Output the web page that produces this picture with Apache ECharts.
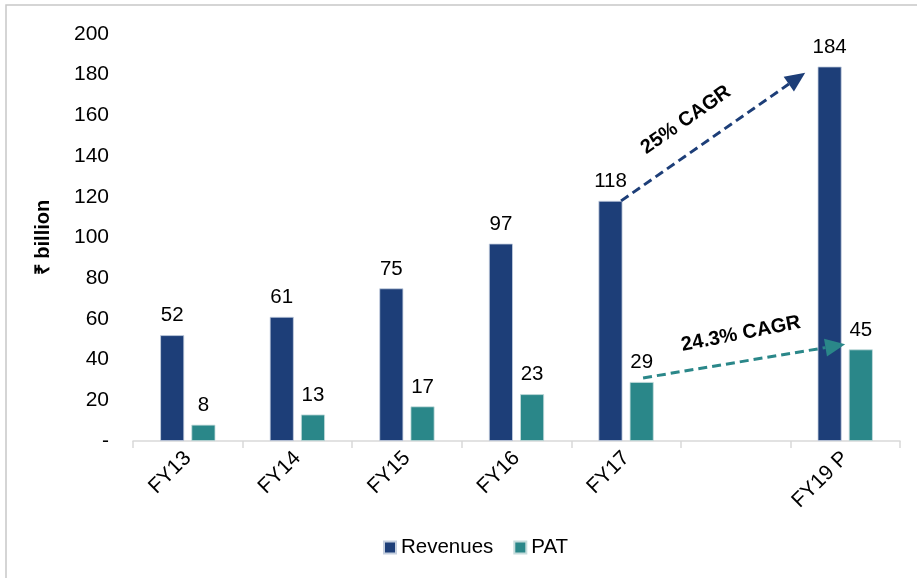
<!DOCTYPE html>
<html>
<head>
<meta charset="utf-8">
<script src="https://cdn.jsdelivr.net/npm/echarts@6/dist/echarts.min.js"></script>
<style>
  html, body { margin: 0; padding: 0; background: #fff; }
  #chart { width: 917px; height: 578px; }
</style>
</head>
<body>
<div id="chart"></div>
<script>
  // data
  var categories = ['FY13', 'FY14', 'FY15', 'FY16', 'FY17', '', 'FY19 P'];
  var revenues = [52, 61, 75, 97, 118, null, 184];
  var pat = [8, 13, 17, 23, 29, null, 45];
  var yTicks = [0, 20, 40, 60, 80, 100, 120, 140, 160, 180, 200];

  var colRev = '#1d3e78';
  var colPat = '#2a8789';
  var font = '"Liberation Sans", Arial, sans-serif';

  var myChart = echarts.init(document.getElementById('chart'));

  myChart.setOption({
    animation: false,
    textStyle: {fontFamily: font},
    grid: {left: 133, right: 17, top: 34, bottom: 137},
    legend: {
      data: ['Revenues', 'PAT'],
      bottom: 15,
      left: 378,
      itemWidth: 12,
      itemHeight: 12,
      itemGap: 20,
      icon: 'rect',
      textStyle: {fontSize: 20.5, color: '#000', fontFamily: font}
    },
    xAxis: {
      type: 'category',
      data: categories,
      axisLine: {lineStyle: {color: '#d9d9d9', width: 1.5}},
      axisTick: {show: true, length: 7, lineStyle: {color: '#d9d9d9', width: 1.5}},
      axisLabel: {interval: 0, rotate: 45, fontSize: 21, color: '#000', margin: 14}
    },
    yAxis: {
      type: 'value',
      min: yTicks[0],
      max: yTicks[yTicks.length - 1],
      interval: 20,
      name: '₹ billion',
      nameLocation: 'middle',
      nameGap: 80,
      nameRotate: 90,
      nameTextStyle: {fontSize: 20, fontWeight: 'bold', color: '#000', fontFamily: font},
      axisLine: {show: false},
      axisTick: {show: false},
      splitLine: {show: false},
      axisLabel: {
        fontSize: 21, color: '#000', margin: 24,
        formatter: function (v) { return v === 0 ? '-' : v; }
      }
    },
    series: [
      {
        name: 'Revenues',
        type: 'bar',
        data: revenues,
        barWidth: 24,
        barGap: '30%',
        itemStyle: {color: colRev, borderColor: '#c5cfdf', borderWidth: 0.8},
        label: {show: true, position: 'top', distance: 9, fontSize: 20.5, color: '#000'}
      },
      {
        name: 'PAT',
        type: 'bar',
        data: pat,
        barWidth: 24,
        itemStyle: {color: colPat, borderColor: '#c5dcdc', borderWidth: 0.8},
        label: {show: true, position: 'top', distance: 9, fontSize: 20.5, color: '#000'}
      }
    ]
  });

  /*CAGR arrows, anchored to the data through the axes*/
  function px(cat, val, dx) {
    var p = myChart.convertToPixel({gridIndex: 0}, [cat, val]);
    return [p[0] + (dx || 0), p[1]];
  }

  function arrow(from, to, color) {
    var ang = Math.atan2(to[1] - from[1], to[0] - from[0]);
    var len = 20, half = 9;
    var bx = to[0] - len * Math.cos(ang), by = to[1] - len * Math.sin(ang);
    var nx = -Math.sin(ang) * half, ny = Math.cos(ang) * half;
    return [
      {
        type: 'line',
        z: 100,
        shape: {x1: from[0], y1: from[1], x2: bx, y2: by},
        style: {stroke: color, lineWidth: 3, lineDash: [9, 5]}
      },
      {
        type: 'polygon',
        z: 100,
        shape: {points: [[to[0], to[1]], [bx + nx, by + ny], [bx - nx, by - ny]]},
        style: {fill: color}
      }
    ];
  }

  function label(text, at, deg) {
    return {
      type: 'text',
      z: 100,
      x: at[0], y: at[1],
      rotation: deg * Math.PI / 180,
      style: {
        text: text, fill: '#000', font: 'bold 20px ' + font,
        align: 'center', verticalAlign: 'middle'
      }
    };
  }

  var revFrom = px('FY17', 118, -5), revTo = px('FY19 P', 181, -40);
  var patFrom = px('FY17', 31, 17), patTo = px('FY19 P', 47.5, 0);

  var els = [].concat(
    arrow(revFrom, revTo, colRev),
    arrow(patFrom, patTo, colPat),
    [
      label('25% CAGR', [686, 120], 35),
      label('24.3% CAGR', [741, 334], 11),
      {
        type: 'polyline',
        shape: {points: [[6, 600], [6, 5], [930, 5]]},
        style: {fill: 'none', stroke: '#c8c8c8', lineWidth: 1.5},
        silent: true
      }
    ]
  );
  myChart.setOption({graphic: els});
</script>
</body>
</html>
